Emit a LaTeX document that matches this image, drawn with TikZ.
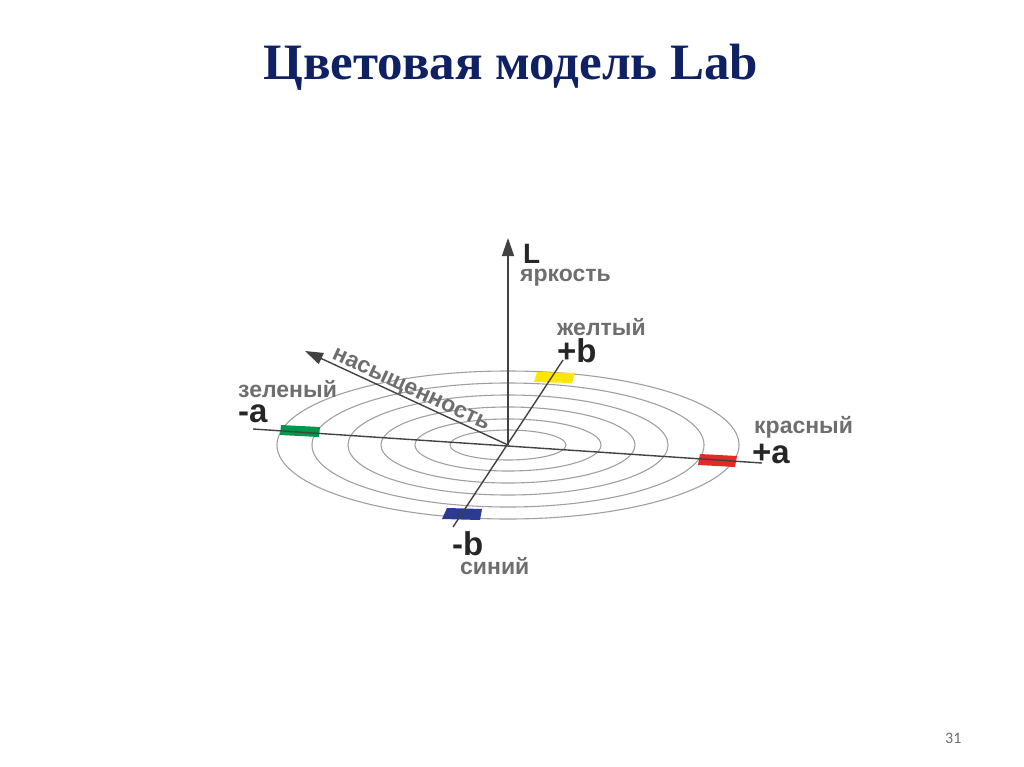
\documentclass[tikz,border=0pt]{standalone}
\usepackage{fontspec}
\setmainfont{Liberation Serif}
\newfontfamily\lblfont{Liberation Sans}
\newfontfamily\numfont{Carlito}
\usetikzlibrary{arrows.meta}
\definecolor{titlecol}{HTML}{102163}
\definecolor{graytxt}{HTML}{6E6E6E}
\definecolor{darktxt}{HTML}{262626}
\definecolor{axiscol}{HTML}{424242}
\definecolor{ringcol}{HTML}{A0A0A0}
\definecolor{pgreen}{HTML}{00974A}
\definecolor{pred}{HTML}{E42A26}
\definecolor{pyellow}{HTML}{FFE500}
\definecolor{pblue}{HTML}{2C3A92}
\tikzset{
  ring/.style={draw=ringcol, line width=1.1pt},
  axisline/.style={draw=axiscol, line width=1.4pt},
  arrowline/.style={axisline, -{Triangle[length=18pt,width=12pt]}},
  graylbl/.style={inner sep=0pt, anchor=base west, text=graytxt, font=\lblfont\bfseries\fontsize{23}{26}\selectfont},
  biglbl/.style={inner sep=0pt, anchor=base west, text=darktxt, font=\lblfont\bfseries\fontsize{33}{36}\selectfont},
}
\begin{document}
\begin{tikzpicture}[x=1pt,y=-1pt]
\useasboundingbox (0,0) rectangle (1024,767);
% title
\node[inner sep=0pt, anchor=base, text=titlecol, font=\bfseries\fontsize{51}{58}\selectfont] (title) at (511,80) {Цветовая модель Lab};
% coordinates
\coordinate (O) at (508,445);
\coordinate (aL) at (253,429);
\coordinate (aR) at (762,463);
\coordinate (bT) at (563,360);
\coordinate (bB) at (453,527);
\coordinate (Ltip) at (508,238);
\coordinate (Stip) at (305,351);
% rings
\foreach \ra/\rb in {231/74,196/62,160/50,127/38,93/26,58/15}{
  \draw[ring] (O) ellipse [x radius=\ra pt, y radius=\rb pt];
}
% colour patches
\fill[pgreen] (281,425) -- (320,427) -- (319,437) -- (280,435) -- cycle;
\fill[pred] (700,454) -- (737,456) -- (735,467) -- (698,465) -- cycle;
\fill[pyellow] (537,372) -- (575,373) -- (572,383) -- (534,382) -- cycle;
\fill[pblue] (447,508) -- (482,509) -- (480,520) -- (442,519) -- cycle;
% axes
\draw[axisline] (aL) -- (aR);
\draw[axisline] (bT) -- (bB);
\draw[arrowline] (O) -- (Ltip);
\draw[arrowline] (O) -- (Stip);
% labels
\node[inner sep=0pt, anchor=base west, text=darktxt, font=\lblfont\bfseries\fontsize{28}{32}\selectfont] (Llbl) at (523,263) {L};
\node[graylbl] (yark) at (520,281) {яркость};
\node[graylbl] (zhelt) at (557,335) {желтый};
\node[biglbl] (pb) at (557,362) {+b};
\node[graylbl] (zel) at (238,397) {зеленый};
\node[biglbl] (ma) at (238,422) {-a};
\node[graylbl] (kras) at (754,433) {красный};
\node[biglbl] (pa) at (752,463) {+a};
\node[biglbl] (mb) at (452,555) {-b};
\node[graylbl] (sin) at (460,574) {синий};
\path (Stip) -- (O) node[pos=0.12, sloped, anchor=base west, inner sep=0pt, yshift=4pt, text=graytxt, font=\lblfont\bfseries\fontsize{23}{26}\selectfont] (sat) {насыщенность};
\node[inner sep=0pt, anchor=base west, text=graytxt, font=\numfont\fontsize{16}{18}\selectfont] (pnum) at (945,743) {31};
\end{tikzpicture}
\end{document}
